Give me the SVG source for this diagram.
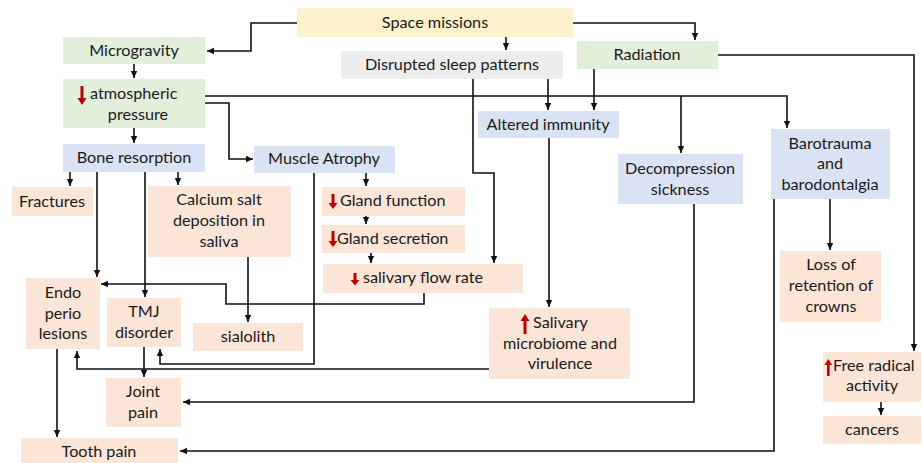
<svg xmlns="http://www.w3.org/2000/svg" width="922" height="463" viewBox="0 0 922 463">
<defs>
<marker id="ah" markerUnits="userSpaceOnUse" markerWidth="8" markerHeight="8" viewBox="0 0 8 8" refX="7" refY="4" orient="auto">
<path d="M0,0.8 L7,4 L0,7.2 Z" fill="#111"/>
</marker>
<style>
.y{fill:#fdf0cd}.g{fill:#e2efda}.b{fill:#dae3f3}.p{fill:#fbe5d6}.s{fill:#ededed}
text{font-family:Lato,"Open Sans","Liberation Sans",sans-serif;font-size:16.2px;fill:#1a1a1a}
.m{text-anchor:middle}
.c path{fill:none;stroke:#111;stroke-width:1.6;marker-end:url(#ah)}
.r{fill:#c00000}
</style>
</defs>
<rect width="922" height="463" fill="#fff"/>
<g id="space"><rect class="y" x="297" y="8" width="276" height="29"/><text class="m" x="435" y="28">Space missions</text></g>
<g id="microgravity"><rect class="g" x="63" y="37" width="142" height="27"/><text class="m" x="134" y="56">Microgravity</text></g>
<g id="atm"><rect class="g" x="63" y="79" width="142" height="49"/>
<path class="r" d="M80.5,86 h3 v12 h3 l-4.5,7 l-4.5,-7 h3 z"/>
<text x="90" y="99">atmospheric</text><text class="m" x="138" y="120">pressure</text></g>
<g id="bone"><rect class="b" x="63" y="144" width="142" height="28"/><text class="m" x="134" y="163">Bone resorption</text></g>
<g id="muscle"><rect class="b" x="254" y="146" width="141" height="27"/><text class="m" x="324" y="164">Muscle Atrophy</text></g>
<g id="sleep"><rect class="s" x="341" y="51" width="222" height="28"/><text class="m" x="452" y="70">Disrupted sleep patterns</text></g>
<g id="radiation"><rect class="g" x="577" y="41" width="141" height="28"/><text class="m" x="647" y="60">Radiation</text></g>
<g id="immunity"><rect class="b" x="478" y="111" width="141" height="27"/><text class="m" x="548" y="130">Altered immunity</text></g>
<g id="decompression"><rect class="b" x="618" y="154" width="125" height="50"/><text class="m" x="680" y="174">Decompression</text><text class="m" x="680" y="195">sickness</text></g>
<g id="barotrauma"><rect class="b" x="771" y="129" width="119" height="70"/><text class="m" x="830" y="149">Barotrauma</text><text class="m" x="830" y="169">and</text><text class="m" x="830" y="190">barodontalgia</text></g>
<g id="fractures"><rect class="p" x="12" y="187" width="81" height="29"/><text class="m" x="52" y="207">Fractures</text></g>
<g id="calcium"><rect class="p" x="148" y="186" width="143" height="71"/><text class="m" x="219" y="205">Calcium salt</text><text class="m" x="219" y="226">deposition in</text><text class="m" x="219" y="247">saliva</text></g>
<g id="endo"><rect class="p" x="26" y="278" width="74" height="71"/><text class="m" x="63" y="298">Endo</text><text class="m" x="63" y="319">perio</text><text class="m" x="63" y="339">lesions</text></g>
<g id="tmj"><rect class="p" x="107" y="298" width="74" height="49"/><text class="m" x="144" y="317">TMJ</text><text class="m" x="144" y="338">disorder</text></g>
<g id="sialolith"><rect class="p" x="193" y="323" width="110" height="28"/><text class="m" x="248" y="342">sialolith</text></g>
<g id="joint"><rect class="p" x="106" y="378" width="75" height="49"/><text class="m" x="143" y="397">Joint</text><text class="m" x="143" y="418">pain</text></g>
<g id="tooth"><rect class="p" x="21" y="438" width="157" height="25"/><text class="m" x="99" y="457">Tooth pain</text></g>
<g id="glandfn"><rect class="p" x="322" y="187" width="143" height="29"/>
<path class="r" d="M331.5,194 h3 v9 h3 l-4.5,6 l-4.5,-6 h3 z"/>
<text x="340" y="206">Gland function</text></g>
<g id="glandsec"><rect class="p" x="322" y="225" width="143" height="28"/>
<path class="r" d="M331.5,231 h3 v10 h3 l-4.5,6 l-4.5,-6 h3 z"/>
<text x="337" y="244">Gland secretion</text></g>
<g id="flow"><rect class="p" x="323" y="264" width="200" height="29"/>
<path class="r" d="M353.5,273 h3 v7 h3 l-4.5,5.5 l-4.5,-5.5 h3 z"/>
<text x="363" y="283">salivary flow rate</text></g>
<g id="microbiome"><rect class="p" x="489" y="308" width="141" height="71"/>
<path class="r" d="M523.5,334 h3 v-13 h3 l-4.5,-7 l-4.5,7 h3 z"/>
<text x="533" y="328">Salivary</text><text class="m" x="560" y="349">microbiome and</text><text class="m" x="560" y="369">virulence</text></g>
<g id="crowns"><rect class="p" x="780" y="251" width="101" height="71"/><text class="m" x="831" y="270">Loss of</text><text class="m" x="831" y="291">retention of</text><text class="m" x="831" y="312">crowns</text></g>
<g id="freeradical"><rect class="p" x="823" y="352" width="98" height="50"/>
<path class="r" d="M827,376 h2.6 v-11 h2.6 l-3.9,-6 l-3.9,6 h2.6 z"/>
<text x="833" y="371">Free radical</text><text class="m" x="872" y="391">activity</text></g>
<g id="cancers"><rect class="p" x="823" y="416" width="98" height="28"/><text class="m" x="872" y="435">cancers</text></g>
<g id="connectors" class="c">
<path d="M297,23 H251 V51 H207"/>
<path d="M573,23 H695 V40"/>
<path d="M506,37 V50"/>
<path d="M134,64 V78"/>
<path d="M134,128 V143"/>
<path d="M205,96 H787 V128"/>
<path d="M681,96 V153"/>
<path d="M205,103 H229 V159 H253"/>
<path d="M70,172 V186"/>
<path d="M97,172 V277"/>
<path d="M145,172 V297"/>
<path d="M178,172 V185"/>
<path d="M248,257 V322"/>
<path d="M424,293 V304 H226 V284 H101"/>
<path d="M366,173 V186"/>
<path d="M366,216 V224"/>
<path d="M371,253 V263"/>
<path d="M314,173 V364 H160 V349"/>
<path d="M489,369 H77 V351"/>
<path d="M473,79 V173 H494 V263"/>
<path d="M548,79 V110"/>
<path d="M594,69 V110"/>
<path d="M549,138 V307"/>
<path d="M694,204 V402 H183"/>
<path d="M774,199 V451 H180"/>
<path d="M830,199 V250"/>
<path d="M718,55 H914 V351"/>
<path d="M881,402 V415"/>
<path d="M57,349 V437"/>
<path d="M144,347 V377"/>
</g>
</svg>
